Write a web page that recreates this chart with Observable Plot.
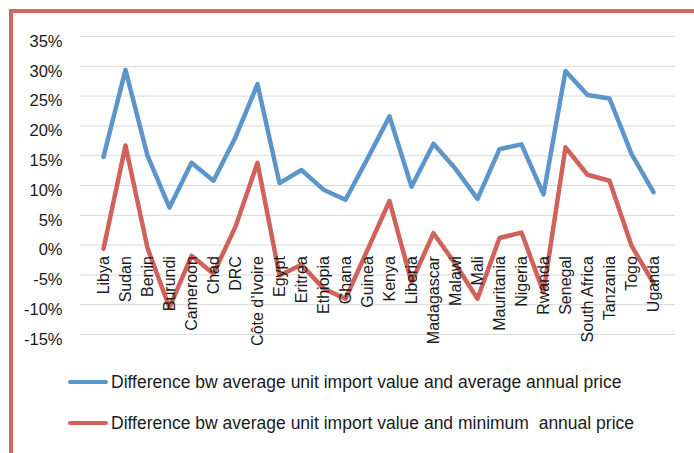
<!DOCTYPE html>
<html><head><meta charset="utf-8">
<script src="https://cdn.jsdelivr.net/npm/d3@7"></script>
<script src="https://cdn.jsdelivr.net/npm/@observablehq/plot@0.6"></script>
<style>
body{margin:0;background:#fff;width:694px;height:453px;overflow:hidden;position:relative;font-family:"Liberation Sans",Arial,sans-serif;color:#1a1a1a}
#frameL{position:absolute;left:9px;top:9px;width:4px;height:444px;background:#d0665e}
#frameT{position:absolute;left:9px;top:9px;right:0;height:4px;background:#d0665e}
#chart{position:absolute;left:0;top:0}
.leg{position:absolute;left:68px;display:flex;align-items:center;font-size:17.5px;white-space:pre;height:24px}
.sw{width:40px;height:4.5px;border-radius:2px;margin-right:3px}
</style></head>
<body>
<div id="chart"></div>
<div id="frameL"></div><div id="frameT"></div>
<div id="legend"></div>
<script>
const countries = ["Libya","Sudan","Benin","Burundi","Cameroon","Chad","DRC","Côte d’Ivoire","Egypt","Eritrea","Ethiopia","Ghana","Guinea","Kenya","Liberia","Madagascar","Malawi","Mali","Mauritania","Nigeria","Rwanda","Senegal","South Africa","Tanzania","Togo","Uganda"];
const avgDiff = [14.8, 29.4, 15.0, 6.3, 13.8, 10.8, 18.1, 27.0, 10.4, 12.6, 9.3, 7.6, 14.5, 21.6, 9.8, 17.0, 12.8, 7.75, 16.1, 16.9, 8.5, 29.2, 25.2, 24.6, 15.3, 8.9];
const minDiff = [-0.6, 16.7, -0.5, -10.5, -1.8, -4.8, 3.1, 13.8, -5.1, -3.3, -7.3, -9.0, -0.8, 7.4, -6.2, 2.0, -3.2, -9.0, 1.2, 2.1, -7.9, 16.4, 11.8, 10.8, -0.1, -6.4];
const yTicks = [-15, -10, -5, 0, 5, 10, 15, 20, 25, 30, 35];
const seriesNames = ["Difference bw average unit import value and average annual price", "Difference bw average unit import value and minimum  annual price"];
const colors = ["#5a95cc", "#d0625b"];

const rowsA = countries.map((c, i) => ({country: c, v: avgDiff[i]}));
const rowsM = countries.map((c, i) => ({country: c, v: minDiff[i]}));

const chart = Plot.plot({
  width: 694, height: 346,
  marginTop: 36, marginBottom: 12, marginLeft: 80, marginRight: 19,
  style: {fontFamily: "Liberation Sans, Arial, sans-serif", fontSize: "16px", color: "#1a1a1a", background: "transparent", overflow: "visible"},
  x: {type: "point", domain: countries, padding: 0.5, axis: null},
  y: {domain: [-15, 35], axis: null},
  marks: [
    Plot.ruleY(yTicks, {stroke: "#d9d9d9", strokeWidth: 1}),
    Plot.axisY({ticks: yTicks, tickSize: 0, tickPadding: 18, tickFormat: d => `${d}%`, fontSize: 16.5, dy: 5, label: null}),
    Plot.line(rowsA, {x: "country", y: "v", stroke: colors[0], strokeWidth: 4.5, strokeLinejoin: "round", strokeLinecap: "round"}),
    Plot.line(rowsM, {x: "country", y: "v", stroke: colors[1], strokeWidth: 4.5, strokeLinejoin: "round", strokeLinecap: "round"}),
    Plot.text(countries, {x: d => d, y: 0, text: d => d, rotate: -90, textAnchor: "end", dy: 11, fontSize: 16, fill: "#1a1a1a"})
  ]
});
document.getElementById("chart").appendChild(chart);

const leg = document.getElementById("legend");
const legTops = [370, 411];
seriesNames.forEach((name, i) => {
  const d = document.createElement("div");
  d.className = "leg";
  d.style.top = legTops[i] + "px";
  const sw = document.createElement("span");
  sw.className = "sw"; sw.style.background = colors[i];
  const t = document.createElement("span");
  t.textContent = name;
  d.appendChild(sw); d.appendChild(t);
  leg.appendChild(d);
});
</script>
</body></html>
